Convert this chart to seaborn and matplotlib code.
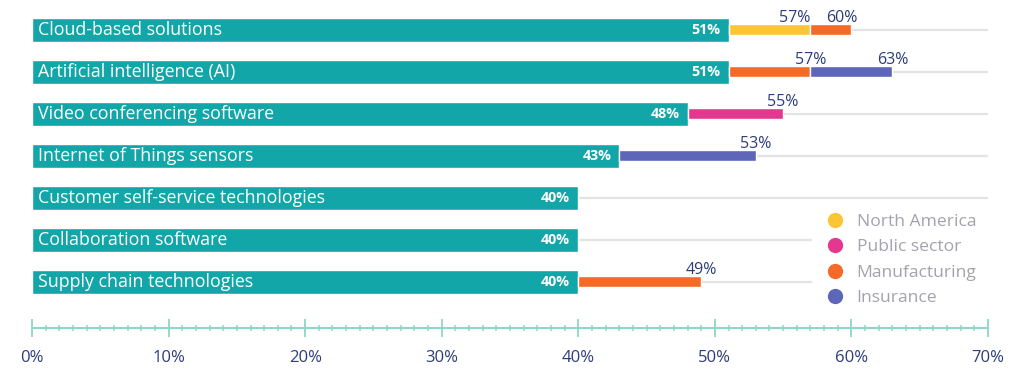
import numpy as np
import pandas as pd
import matplotlib
matplotlib.use('Agg')
import matplotlib.pyplot as plt
from matplotlib.lines import Line2D
from matplotlib.ticker import MultipleLocator
import seaborn as sns

# data
categories = ['Cloud-based solutions', 'Artificial intelligence (AI)', 'Video conferencing software',
              'Internet of Things sensors', 'Customer self-service technologies',
              'Collaboration software', 'Supply chain technologies']
overall = [51, 51, 48, 43, 40, 40, 40]
north_america = [57, np.nan, np.nan, np.nan, np.nan, np.nan, np.nan]
public_sector = [np.nan, np.nan, 55, np.nan, np.nan, np.nan, np.nan]
manufacturing = [60, 57, np.nan, np.nan, np.nan, np.nan, 49]
insurance = [np.nan, 63, np.nan, 53, np.nan, np.nan, np.nan]
xticks = [0, 10, 20, 30, 40, 50, 60, 70]

series = {
    'North America': (north_america, '#fdc435'),
    'Public sector': (public_sector, '#e4388e'),
    'Manufacturing': (manufacturing, '#f66a27'),
    'Insurance': (insurance, '#5d66b9'),
}

teal = '#12a6a9'
navy = '#2c3c7c'
axis_col = '#8dd8c8'

sns.set_style('white')
plt.rcParams['font.family'] = ['Open Sans', 'DejaVu Sans']

fig = plt.figure(figsize=(10.24, 3.92), dpi=100)
ax = fig.add_axes([32 / 1024, 1 - 328 / 392, 956 / 1024, 328 / 392])

df = pd.DataFrame({'category': categories, 'overall': overall})
rows = np.arange(len(categories))

# light grey guide lines behind everything
ax.hlines(rows, 0, 70, color='#e3e3e6', lw=1.6, zorder=0)

sns.barplot(data=df, x='overall', y='category', orient='h', color=teal,
            saturation=1, width=0.57, ax=ax, zorder=2)

# stacked segment extensions
for i in rows:
    segs = []
    for name, (vals, col) in series.items():
        if not np.isnan(vals[i]):
            segs.append((vals[i], col))
    segs.sort()
    start = overall[i]
    for j, (v, col) in enumerate(segs):
        ax.barh(i - 0.01, v - start, left=start, height=0.27, color=col, zorder=3)
        if i == 0:
            # labels nudged apart in the first row
            ha, dx = ('right', 0) if j == 0 else ('center', -10)
        else:
            ha, dx = 'center', 0
        ax.annotate(f'{v:.0f}%', (v, i - 0.2), xytext=(dx, 0), textcoords='offset pixels',
                    ha=ha, va='baseline', color=navy, fontsize=11.5, zorder=4)
        start = v

for i in rows:
    ax.text(0.45, i, categories[i], ha='left', va='center', color='white', fontsize=12.8, zorder=4)
    ax.annotate(f'{overall[i]}%', (overall[i], i), xytext=(-8, 0), textcoords='offset pixels',
                ha='right', va='center', color='white', fontsize=10.3, fontweight='bold', zorder=4)

ax.set_xticks(xticks)
ax.set_xticklabels([f'{t}%' for t in xticks])
ax.xaxis.set_minor_locator(MultipleLocator(1))
ax.set_xlim(0, 70)
ax.set_ylim(7.095, -0.714)
ax.set_xlabel('')
ax.set_ylabel('')
ax.set_yticks([])

ax.tick_params(axis='x', which='major', direction='inout', length=13, width=1.3,
               color=axis_col, labelcolor=navy, labelsize=12, pad=9, bottom=True)
ax.tick_params(axis='x', which='minor', direction='inout', length=4.5, width=1.1,
               color=axis_col, bottom=True)
for s in ['top', 'right', 'left']:
    ax.spines[s].set_visible(False)
ax.spines['bottom'].set_color(axis_col)
ax.spines['bottom'].set_linewidth(1.5)

handles = [Line2D([], [], marker='o', ls='', markersize=10, color=col, label=name)
           for name, (vals, col) in series.items()]
leg = ax.legend(handles=handles, loc='upper left',
                bbox_to_anchor=(812 / 1024, 0, 180 / 1024, 1 - 211 / 392),
                bbox_transform=fig.transFigure, mode='expand', frameon=True,
                facecolor='white', edgecolor='white', framealpha=1, fontsize=12.6,
                labelspacing=0.53, handletextpad=0.1, borderpad=0.15, handlelength=2.3,
                borderaxespad=0)
leg.set_zorder(5)
for t in leg.get_texts():
    t.set_color('#a3a3ad')

fig.savefig('out.png', dpi=100)
